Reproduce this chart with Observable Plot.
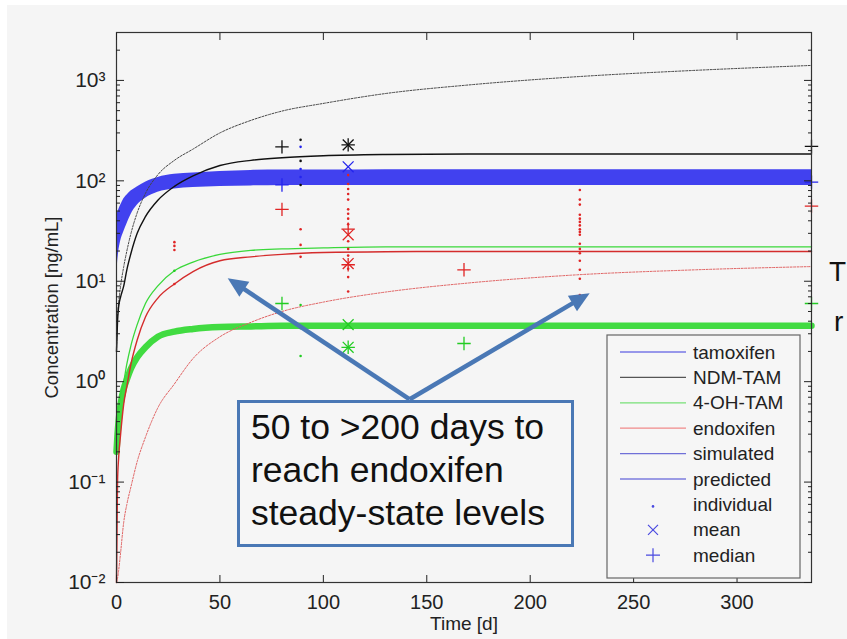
<!DOCTYPE html>
<html><head><meta charset="utf-8">
<script src="https://cdn.jsdelivr.net/npm/d3@7"></script>
<script src="https://cdn.jsdelivr.net/npm/@observablehq/plot@0.6"></script>
<style>
html,body{margin:0;padding:0;background:#f5f5f5;width:847px;height:639px;overflow:hidden;font-family:"Liberation Sans",Arial,Helvetica,sans-serif;}
#wrap{position:relative;width:847px;height:639px;}
#wrap svg{position:absolute;left:0;top:0;}
.edge{position:absolute;background:#fff;}
#note{position:absolute;left:237px;top:400px;width:337px;height:147px;box-sizing:border-box;border:3.5px solid #4a78b5;background:#f6f6f6;font-size:35.5px;line-height:43px;padding:3px 0 0 11px;color:#111;white-space:nowrap;}
.cut{position:absolute;font-size:28px;color:#111;}
</style></head><body>
<div id="wrap"></div>
<script>
// ---- data ----
const tGrid      = [0, 0.5, 1, 2, 3.5, 5, 7, 10, 14, 20, 28, 37, 50, 65, 80, 100, 130, 170, 220, 280, 336];
const tamSimLow  = [10, 15, 19, 25, 31, 37, 46, 57, 67, 77, 83, 86, 88, 89, 90, 90, 90, 90, 90, 90, 90];
const tamSimHigh = [45, 48, 51, 57, 66, 72, 79, 87, 97, 108, 116, 120, 124, 127, 128, 128, 129, 129, 129, 129, 129];
const ndmTam     = [2, 4, 5.5, 7, 9, 13, 19, 30, 44, 64, 88, 112, 142, 160, 170, 178, 183, 185, 185, 185, 185];
const ndmPred    = [2, 4.5, 6, 9, 14, 20, 30, 48, 75, 115, 160, 207, 300, 400, 495, 590, 740, 900, 1080, 1260, 1410];
const ohTam      = [0.25, 0.4, 0.55, 0.75, 1.0, 1.5, 2.3, 3.7, 6.0, 9.0, 12.7, 15.5, 18.5, 20.3, 21, 21.5, 22, 22, 22, 22, 22];
const ohTamSim   = [0.2, 0.3, 0.4, 0.6, 0.85, 1.05, 1.35, 1.75, 2.2, 2.8, 3.15, 3.35, 3.5, 3.55, 3.6, 3.6, 3.6, 3.6, 3.6, 3.6, 3.6];
const endox      = [0.01, 0.1, 0.17, 0.3, 0.6, 0.9, 1.5, 2.6, 4.4, 6.8, 9.4, 12.5, 16, 17.5, 18.5, 19.3, 19.7, 19.8, 19.8, 19.8, 19.8];
const endoxPred  = [0.01, 0.011, 0.013, 0.02, 0.04, 0.06, 0.09, 0.16, 0.28, 0.55, 0.95, 1.7, 2.8, 3.9, 5.0, 6.2, 7.8, 9.6, 11.5, 13, 14];

const indivT = [28,28,28,28,28,
  89,89,89,89,89,89,89,89,89,89,89,89,
  112,112,112,112,112,112,112,112,112,112,112,112,112,112,112,
  224,224,224,224,224,224,224,224,224,224,224,224,224,224,224,224,224];
const indivV = [24.5,22.5,20.5,9.4,12.7,
  256,158,91,218,131,109,33,23,17.5,5.8,3.4,1.8,
  114,93,83,74,65,52,47,42,37,25,21,18,13.3,11,7.9,
  81,65,58,46,42,39,36,33,31,29,23.6,21,19,16,13,10.6,7.3];
const indivC = ["red","red","red","red","green",
  "black","black","black","blue","blue","blue","red","red","red","green","green","green",
  "red","red","red","red","red","red","red","red","red","red","red","red","red","red","red",
  "red","red","red","red","red","red","red","red","red","red","red","red","red","red","red","red","red"];

const meanT = [112, 112, 112, 112, 112, 112];
const meanV = [228, 138, 29, 15, 3.7, 2.2];
const meanC = ["black","blue","red","red","green","green"];

const medT = [80, 80, 80, 80, 112, 112, 112, 112, 168, 168, 336, 336, 336, 336];
const medV = [218, 91, 52, 6.0, 228, 33, 14.6, 2.2, 13, 2.4, 220, 97, 56, 6.0];
const medC = ["black","blue","red","green","black","red","red","green","red","green","black","blue","red","green"];

const xTicks = [0, 50, 100, 150, 200, 250, 300];
const yMajor = [0.01, 0.1, 1, 10, 100, 1000];
const yMinor = d3.merge(yMajor.map(d => d3.range(2, 10).map(k => k * d))).filter(v => v < 3000);

const legendLabels = ["tamoxifen","NDM-TAM","4-OH-TAM","endoxifen","simulated","predicted","individual","mean","median"];
const legendKinds  = ["line","line","line","line","line","line","dot","times","plus"];
const legendColors = ["#7777e6","#555555","#77e077","#f08a8a","#7070d8","#7c7cde","#4a4ae0","#4a4ae0","#4a4ae0"];

const noteLines = ["50 to >200 days to", "reach endoxifen", "steady-state levels"];
const arrowStart = [142, 0.66];
const arrowEnds = [[54, 10.6], [229, 7.5]];

// ---- derived tables ----
const colorOf = {black: "#111111", blue: "#2424ee", red: "#e02424", green: "#22cc22"};
const curves = tGrid.map((t, i) => ({t, lo: tamSimLow[i], hi: tamSimHigh[i], ndm: ndmTam[i], ndmP: ndmPred[i],
  oh: ohTam[i], ohS: ohTamSim[i], en: endox[i], enP: endoxPred[i]}));
const indiv = indivT.map((t, i) => ({t, v: indivV[i], c: colorOf[indivC[i]]}));
const means = meanT.map((t, i) => ({t, v: meanV[i], c: colorOf[meanC[i]]}));
const meds = medT.map((t, i) => ({t, v: medV[i], c: colorOf[medC[i]]}));

const sup = {"-": "\u207B", "0": "\u2070", "1": "\u00B9", "2": "\u00B2", "3": "\u00B3"};
const yFmt = d => "10" + String(Math.round(Math.log10(d))).replace(/./g, c => sup[c]);
const blank = () => "";

const plot = Plot.plot({
  width: 847, height: 639,
  marginLeft: 116, marginRight: 36, marginTop: 32, marginBottom: 57,
  style: {background: "transparent", fontFamily: "'Liberation Sans', Arial, sans-serif", fontSize: "18px", color: "#222", overflow: "visible"},
  x: {domain: [0, 336]},
  y: {type: "log", domain: [0.01, 3000]},
  color: {type: "identity"},
  marks: [
    Plot.areaY(curves, {x: "t", y1: "lo", y2: "hi", fill: "#2e2eee", fillOpacity: 0.9, curve: "monotone-x"}),
    Plot.lineY(curves, {x: "t", y: "ohS", stroke: "#2ed82e", strokeWidth: 6.5, strokeOpacity: 0.9, curve: "monotone-x"}),
    Plot.lineY(curves, {x: "t", y: "ndmP", stroke: "#444", strokeWidth: 1, strokeDasharray: "2,1.5", curve: "monotone-x"}),
    Plot.lineY(curves, {x: "t", y: "ndm", stroke: "#111", strokeWidth: 1.4, curve: "monotone-x"}),
    Plot.lineY(curves, {x: "t", y: "oh", stroke: "#3ad83a", strokeWidth: 1.3, curve: "monotone-x"}),
    Plot.lineY(curves, {x: "t", y: "en", stroke: "#d42c2c", strokeWidth: 1.4, curve: "monotone-x"}),
    Plot.lineY(curves, {x: "t", y: "enP", stroke: "#e06060", strokeWidth: 1, strokeDasharray: "2,1.5", curve: "monotone-x"}),
    Plot.dot(indiv, {x: "t", y: "v", fill: "c", r: 1.3}),
    Plot.dot(means, {x: "t", y: "v", stroke: "c", symbol: "times", r: 5, strokeWidth: 1.3}),
    Plot.dot(meds, {x: "t", y: "v", stroke: "c", symbol: "plus", r: 4.4, strokeWidth: 1.3}),
    Plot.frame({stroke: "#333", strokeWidth: 1.2}),
    Plot.axisX({ticks: xTicks, tickSize: 0, tickPadding: 12, label: null, fontSize: 20, tickFormat: d => String(d)}),
    Plot.axisX({ticks: xTicks, tickSize: -7, tickPadding: 0, label: null, tickFormat: blank}),
    Plot.axisX({anchor: "top", ticks: xTicks, tickSize: -7, tickPadding: 0, label: null, tickFormat: blank}),
    Plot.axisY({ticks: yMajor, tickSize: 0, tickPadding: 11, label: null, fontSize: 21, tickFormat: yFmt}),
    Plot.axisY({ticks: yMajor, tickSize: -8, tickPadding: 0, label: null, tickFormat: blank}),
    Plot.axisY({ticks: yMinor, tickSize: -4, tickPadding: 0, label: null, tickFormat: blank}),
    Plot.axisY({anchor: "right", ticks: yMajor, tickSize: -8, tickPadding: 0, label: null, tickFormat: blank}),
    Plot.axisY({anchor: "right", ticks: yMinor, tickSize: -4, tickPadding: 0, label: null, tickFormat: blank}),
    Plot.text(["Concentration [ng/mL]"], {frameAnchor: "left", textAnchor: "middle", dx: -64, rotate: -90, fontSize: 18.5, fill: "#222"}),
    Plot.text(["Time [d]"], {frameAnchor: "bottom", textAnchor: "middle", dy: 47, fontSize: 19, fill: "#222"})
  ]
});

const wrap = document.getElementById("wrap");
wrap.appendChild(plot);

// white strips at the picture's edges
[["left:0;top:0;width:847px;height:5px"], ["left:0;top:0;width:7px;height:639px"]].forEach(([s]) => {
  const e = document.createElement("div"); e.className = "edge"; e.style.cssText = s; wrap.appendChild(e);
});

// annotation box
const note = document.createElement("div");
note.id = "note";
note.innerHTML = noteLines.map(l => l.replace(/&/g, "&amp;").replace(/</g, "&lt;").replace(/>/g, "&gt;")).join("<br>");
wrap.appendChild(note);

// arrows (positions through the plot's scales)
const sx = plot.scale("x"), sy = plot.scale("y");
const svg = d3.select(plot);
const ag = svg.append("g");
const p0 = [sx.apply(arrowStart[0]), sy.apply(arrowStart[1])];
arrowEnds.forEach(([t, v]) => {
  const p1 = [sx.apply(t), sy.apply(v)];
  const dx = p1[0] - p0[0], dy = p1[1] - p0[1], L = Math.hypot(dx, dy);
  const ux = dx / L, uy = dy / L, hl = 20, hw = 9;
  const bx = p1[0] - ux * hl, by = p1[1] - uy * hl;
  ag.append("line").attr("x1", p0[0]).attr("y1", p0[1]).attr("x2", bx + ux * 2).attr("y2", by + uy * 2)
    .attr("stroke", "#4a78b5").attr("stroke-width", 4.5);
  ag.append("path").attr("d", `M${p1[0]},${p1[1]}L${bx - uy * hw},${by + ux * hw}L${bx + uy * hw},${by - ux * hw}Z`)
    .attr("fill", "#4a78b5");
});

// legend
const lg = d3.select(wrap).append("svg").attr("width", 195).attr("height", 245)
  .style("position", "absolute").style("left", "606px").style("top", "334px");
lg.append("rect").attr("x", 1).attr("y", 1).attr("width", 193).attr("height", 243).attr("fill", "#f6f6f6").attr("stroke", "#666").attr("stroke-width", 1.2);
legendLabels.forEach((lab, i) => {
  const cy = 18 + i * 25.4;
  const k = legendKinds[i], col = legendColors[i];
  if (k === "line") lg.append("line").attr("x1", 14).attr("x2", 80).attr("y1", cy).attr("y2", cy).attr("stroke", col).attr("stroke-width", 1.3);
  else if (k === "dot") lg.append("circle").attr("cx", 47).attr("cy", cy + 2).attr("r", 1.3).attr("fill", col);
  else if (k === "times") lg.append("path").attr("d", `M${42},${cy - 5}L${52},${cy + 5}M${52},${cy - 5}L${42},${cy + 5}`).attr("stroke", col).attr("stroke-width", 1.2);
  else lg.append("path").attr("d", `M${40},${cy}L${54},${cy}M${47},${cy - 7}L${47},${cy + 7}`).attr("stroke", col).attr("stroke-width", 1.2);
  lg.append("text").attr("x", 87).attr("y", cy + 6.5).attr("font-size", 19).attr("fill", "#222")
    .attr("font-family", "'Liberation Sans', Arial, sans-serif").text(lab);
});

// slide text that sits at the right edge
[["T", 256, 829], ["r", 306, 834]].forEach(([s, top, left]) => {
  const e = document.createElement("div"); e.className = "cut"; e.textContent = s;
  e.style.left = left + "px"; e.style.top = top + "px"; wrap.appendChild(e);
});
</script>
</body></html>
